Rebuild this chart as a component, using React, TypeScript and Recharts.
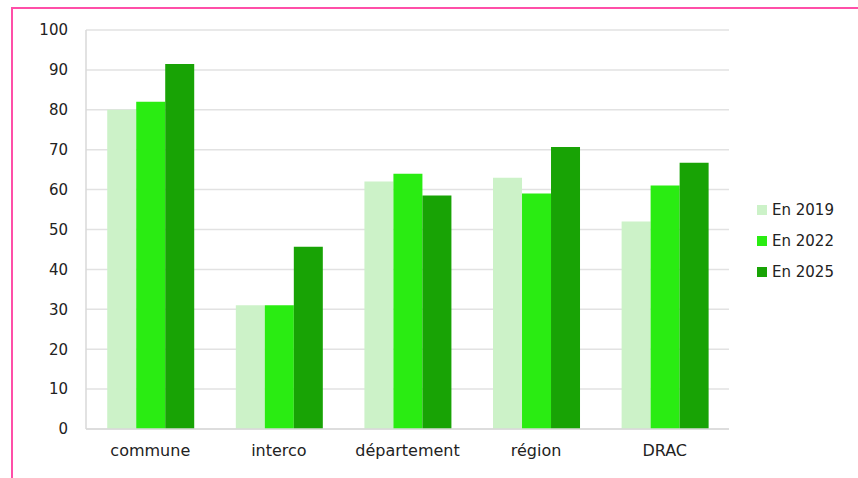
import React from "react";
import { BarChart, Bar, XAxis, YAxis, CartesianGrid } from "recharts";

const categories = ["commune", "interco", "département", "région", "DRAC"];
const series2019 = [80, 31, 62, 63, 52];
const series2022 = [82, 31, 64, 59, 61];
const series2025 = [91.5, 45.7, 58.5, 70.7, 66.7];
const seriesNames = ["En 2019", "En 2022", "En 2025"];
const seriesColors = ["#ccf2c8", "#2aec12", "#18a305"];
const yTicks = [0, 10, 20, 30, 40, 50, 60, 70, 80, 90, 100];

const data = categories.map((c, i) => ({
  name: c,
  s2019: series2019[i],
  s2022: series2022[i],
  s2025: series2025[i],
}));
const keys = ["s2019", "s2022", "s2025"];

const FONT = "'DejaVu Sans', sans-serif";

export default function App() {
  return (
    <div style={{ position: "absolute", left: 0, top: 0, width: 858, height: 478, background: "#fff", overflow: "hidden" }}>
      <div
        style={{
          position: "absolute",
          left: 11,
          top: 7,
          width: 900,
          height: 500,
          borderLeft: "2px solid #ff4fa8",
          borderTop: "2px solid #ff4fa8",
        }}
      />
      <div style={{ position: "absolute", left: 0, top: 0 }}>
        <BarChart
          width={858}
          height={478}
          data={data}
          margin={{ top: 30, right: 129, bottom: 19, left: 30 }}
          barCategoryGap="16.5%"
          barGap={0}
        >
          <CartesianGrid vertical={false} stroke="#e2e2e2" strokeWidth={1.5} />
          <XAxis
            dataKey="name"
            height={30}
            tickLine={false}
            tickSize={0}
            tickMargin={16}
            axisLine={{ stroke: "#d9d9d9", strokeWidth: 1.5 }}
            tick={{ fill: "#222", fontSize: 16, fontFamily: FONT }}
          />
          <YAxis
            width={56}
            domain={[0, 100]}
            ticks={yTicks}
            interval={0}
            tickLine={false}
            tickSize={0}
            tickMargin={18}
            axisLine={{ stroke: "#d9d9d9", strokeWidth: 1.5 }}
            tick={{ fill: "#222", fontSize: 15, fontFamily: FONT }}
          />
          <YAxis
            yAxisId="right"
            orientation="right"
            width={0}
            domain={[0, 100]}
            tick={false}
            tickLine={false}
            axisLine={{ stroke: "#d9d9d9", strokeWidth: 1.5 }}
          />
          {keys.map((k, i) => (
            <Bar key={k} dataKey={k} name={seriesNames[i]} fill={seriesColors[i]} isAnimationActive={false} />
          ))}
        </BarChart>
      </div>
      {seriesNames.map((n, i) => (
        <div
          key={n}
          style={{
            position: "absolute",
            left: 757,
            top: 200 + i * 31,
            height: 20,
            display: "flex",
            alignItems: "center",
            fontFamily: FONT,
            fontSize: 15,
            color: "#222",
          }}
        >
          <span style={{ display: "inline-block", width: 10, height: 10, background: seriesColors[i], marginRight: 5 }} />
          {n}
        </div>
      ))}
    </div>
  );
}
